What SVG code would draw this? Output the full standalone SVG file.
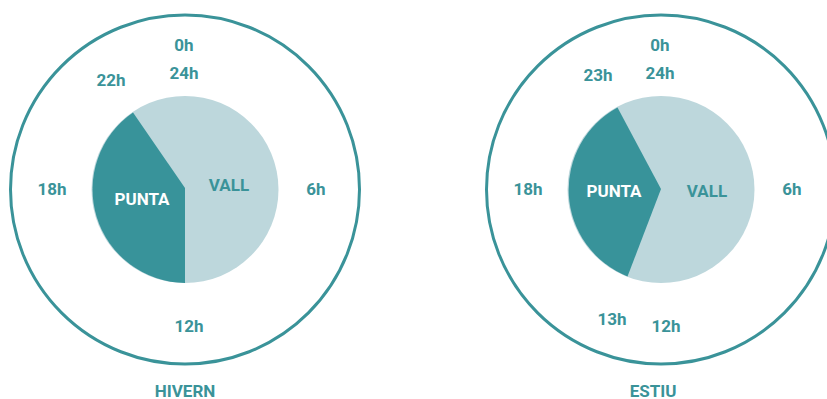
<svg xmlns="http://www.w3.org/2000/svg" width="827" height="399" viewBox="0 0 827 399">
<style>
.outer{fill:none;stroke:#3a9399;stroke-width:3}
.punta{fill:#38939a}
.vall{fill:#bdd7dc}
text{font-family:Roboto,"Liberation Sans",sans-serif;font-weight:700;font-size:17px;fill:#3a9399;text-anchor:middle}
.w{fill:#ffffff}
</style>
<rect width="827" height="399" fill="#ffffff"/>
<g id="hivern">
<circle class="outer" cx="185" cy="189.5" r="174.5"/>
<circle class="vall" cx="185" cy="189.5" r="93.5"/>
<path class="punta" d="M185,188 L133,112.5 A93.5,93.5 0 0 0 185,283 Z"/>
<text x="184" y="51">0h</text>
<text x="184" y="79">24h</text>
<text x="111" y="86">22h</text>
<text x="52" y="195">18h</text>
<text x="316" y="195">6h</text>
<text x="189" y="332">12h</text>
<text class="w" x="142" y="204.5">PUNTA</text>
<text x="229" y="191">VALL</text>
<text x="185" y="396.5">HIVERN</text>
</g>
<g id="estiu">
<circle class="outer" cx="661" cy="189.5" r="174.5"/>
<circle class="vall" cx="661" cy="189.5" r="93.5"/>
<path class="punta" d="M661,189 L617.5,107.5 A93.5,93.5 0 0 0 627.5,276.5 Z"/>
<text x="660" y="51">0h</text>
<text x="660" y="79">24h</text>
<text x="598" y="81">23h</text>
<text x="528" y="195">18h</text>
<text x="792" y="195">6h</text>
<text x="612" y="325">13h</text>
<text x="666" y="332">12h</text>
<text class="w" x="614" y="197">PUNTA</text>
<text x="707" y="197">VALL</text>
<text x="653" y="396.5">ESTIU</text>
</g>
<g id="connectors"></g>
</svg>
